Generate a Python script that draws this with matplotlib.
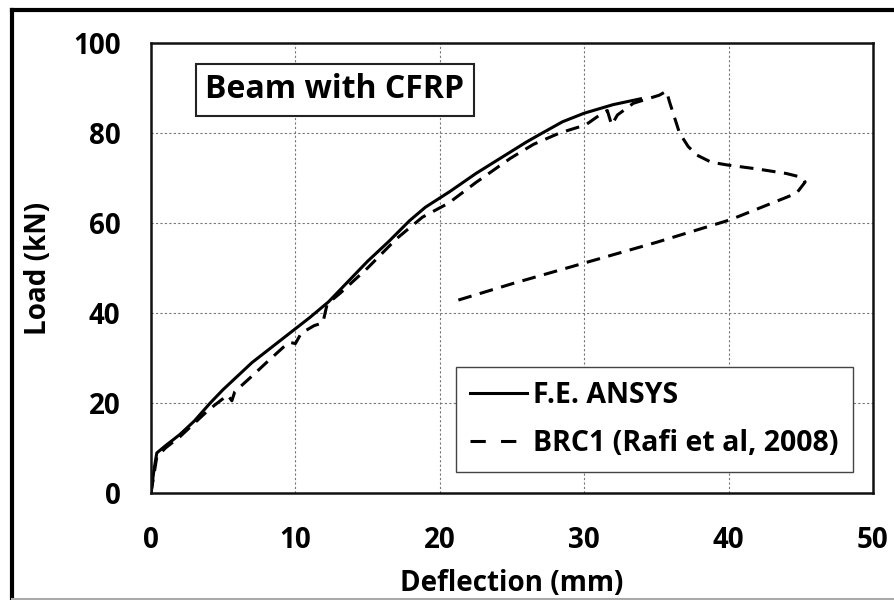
import numpy as np
import matplotlib.pyplot as plt
from matplotlib.lines import Line2D

# F.E. ANSYS (solid) - deflection [mm], load [kN]
fe_defl = [0, 0.2, 0.4, 1.0, 2.0, 3.0, 4.1, 5.0, 6.0, 7.0, 8.0, 9.0, 10.0, 11.0,
           12.3, 13.5, 15.0, 16.5, 17.9, 19.0, 20.7, 22.5, 24.5, 26.0, 27.1,
           28.5, 30.0, 32.0, 33.9]
fe_load = [0, 5.0, 8.9, 10.5, 13.0, 16.0, 20.0, 23.0, 26.0, 29.0, 31.5, 34.0,
           36.5, 39.0, 42.5, 46.5, 51.5, 56.0, 60.5, 63.5, 67.0, 71.0, 75.0,
           78.0, 80.0, 82.5, 84.4, 86.3, 87.6]

# BRC1 (Rafi et al, 2008) experimental (dashed)
ex_defl = [0, 0.4, 1.0, 2.0, 3.0, 4.0, 5.0, 5.3, 5.6, 5.8, 7.0, 8.0, 9.2, 9.6,
           10.0, 10.4, 11.3, 11.9, 12.2, 13.1, 15.0, 17.0, 18.8, 20.6, 22.5,
           24.9, 26.5, 28.3, 30.1, 31.3, 31.6, 31.9, 32.3, 33.4, 35.2, 35.7,
           35.9, 36.2, 36.6, 37.2, 37.8, 38.8, 39.9, 42.0, 44.0, 45.0, 45.3,
           44.7, 40.1, 35.0, 30.0, 25.0, 20.8]
ex_load = [0, 8.0, 10.0, 12.5, 15.5, 18.5, 21.0, 21.8, 20.5, 22.5, 26.0, 29.0,
           32.5, 33.5, 33.2, 35.5, 37.2, 37.8, 42.0, 44.4, 50.0, 56.5, 61.3,
           64.4, 69.0, 74.4, 77.5, 80.0, 81.8, 84.5, 85.0, 81.8, 84.0, 86.6,
           88.4, 89.3, 87.0, 84.0, 80.0, 77.0, 75.1, 73.5, 72.9, 72.0, 71.0,
           70.2, 69.1, 66.6, 60.7, 55.7, 51.1, 46.5, 42.4]

FONT = 'Open Sans'

fig = plt.figure(figsize=(8.95, 6), dpi=100)
ax = fig.add_axes([151 / 895, 1 - 493 / 600, (873 - 151) / 895, (493 - 43) / 600])

ax.plot(fe_defl, fe_load, color='black', lw=2.2, solid_joinstyle='round')
ax.plot(ex_defl, ex_load, color='black', lw=2.2, linestyle=(0, (4.5, 2.8)))

ax.set_xlim(0, 50)
ax.set_ylim(0, 100)
ax.set_xticks(np.arange(0, 51, 10))
ax.set_yticks(np.arange(0, 101, 20))
ax.grid(True, color='#777777', linestyle=(0, (2, 2)), lw=0.8)
ax.tick_params(axis='x', length=0, pad=24)
ax.tick_params(axis='y', length=0, pad=22)
for lab in ax.get_xticklabels() + ax.get_yticklabels():
    lab.set_fontfamily(FONT)
    lab.set_fontweight('bold')
    lab.set_fontsize(20)
for s in ax.spines.values():
    s.set_linewidth(1.8)
    s.set_color('#111111')

ax.set_xlabel('Deflection (mm)', fontfamily=FONT, fontweight='bold', fontsize=20, labelpad=10)
ax.set_ylabel('Load (kN)', fontfamily=FONT, fontweight='bold', fontsize=20, labelpad=14)

ax.text(0.075, 0.896, 'Beam with CFRP', transform=ax.transAxes, fontfamily=FONT,
        fontweight='bold', fontsize=23, va='center', ha='left',
        bbox=dict(boxstyle='square,pad=0.3', fc='white', ec='#222222', lw=1.5))

handles = [Line2D([], [], color='black', lw=2.2),
           Line2D([], [], color='black', lw=2.2, linestyle=(0, (5, 5)))]
leg = ax.legend(handles, ['F.E. ANSYS', 'BRC1 (Rafi et al, 2008)'],
                loc='lower right', bbox_to_anchor=(0.972, 0.047), borderaxespad=0,
                fancybox=False, edgecolor='#444444', framealpha=1,
                handlelength=2.0, handletextpad=0.2, labelspacing=0.65,
                borderpad=0.5, prop={'family': FONT, 'weight': 'bold', 'size': 20.5})
leg.get_frame().set_linewidth(1.0)

# outer frame of the picture
fig.add_artist(Line2D([12 / 895, 12 / 895], [0, 1 - 10 / 600], color='black', lw=3,
                      transform=fig.transFigure))
fig.add_artist(Line2D([12 / 895, 1], [1 - 10 / 600, 1 - 10 / 600], color='black', lw=3,
                      transform=fig.transFigure))
fig.add_artist(Line2D([12 / 895, 1], [1 / 600, 1 / 600], color='#aaaaaa', lw=1.5,
                      transform=fig.transFigure))

fig.savefig('out.png', dpi=100)
